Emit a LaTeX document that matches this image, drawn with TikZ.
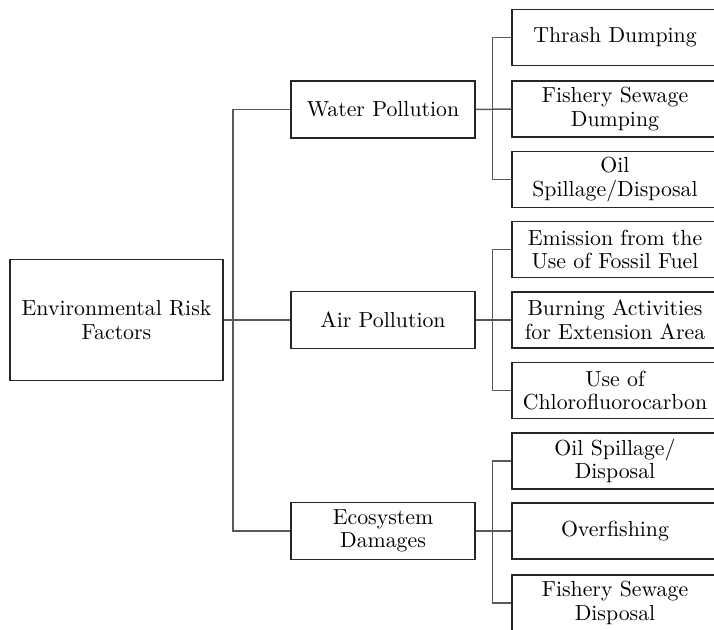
\documentclass[tikz,border=0pt]{standalone}

\tikzset{
  rootbox/.style={draw=black!85, line width=0.6pt, align=center,
    minimum width=106.5pt, minimum height=60.5pt, inner sep=2pt},
  midbox/.style={draw=black!85, line width=0.6pt, align=center,
    minimum width=92pt, minimum height=28.5pt, inner sep=2pt},
  leafbox/.style={draw=black!85, line width=0.6pt, align=center,
    minimum width=103pt, minimum height=28pt, inner sep=2pt},
  conn/.style={draw=black!65, line width=0.75pt}
}

\begin{document}
\begin{tikzpicture}[x=0.5pt, y=-0.5pt, font=\fontsize{10.9}{11.8}\selectfont]
\path[use as bounding box, clip] (0,0) rectangle (714,630);

% Radice
\node[rootbox] (root) at (116.5,320) {Environmental Risk\\Factors};

% Fattori principali
\node[midbox] (water) at (383,109.5) {Water Pollution};
\node[midbox] (air)   at (383,320)   {Air Pollution};
\node[midbox] (eco)   at (383,531)   {Ecosystem\\Damages};

% Foglie (il bordo destro esce dal riquadro)
\foreach \n/\y/\t in {w1/37.5/{Thrash Dumping},
                      w2/109/{Fishery Sewage\\Dumping},
                      w3/179.5/{Oil\\Spillage/Disposal},
                      a1/249.5/{Emission from the\\Use of Fossil Fuel},
                      a2/320/{Burning Activities\\for Extension Area},
                      a3/390.5/{Use of\\Chlorofluorocarbon},
                      e1/461/{Oil Spillage/\\Disposal},
                      e2/531/{Overfishing},
                      e3/603/{Fishery Sewage\\Disposal}} {
  \node[leafbox] (\n) at (615,\y) {\t};
}

% Tronco
\coordinate (trunk) at (233,320);
\draw[conn] (root.east) -- (air.west);
\draw[conn] (water.west) -- (trunk |- water.west) -- (trunk |- eco.west) -- (eco.west);

% Rami verso le foglie
\foreach \m/\l in {water/w, air/a, eco/e} {
  \draw[conn] (\m.east) -- (\l2.west);
  \draw[conn] (\l1.west) -- ++(-19,0) |- (\l3.west);
}

\end{tikzpicture}
\end{document}
